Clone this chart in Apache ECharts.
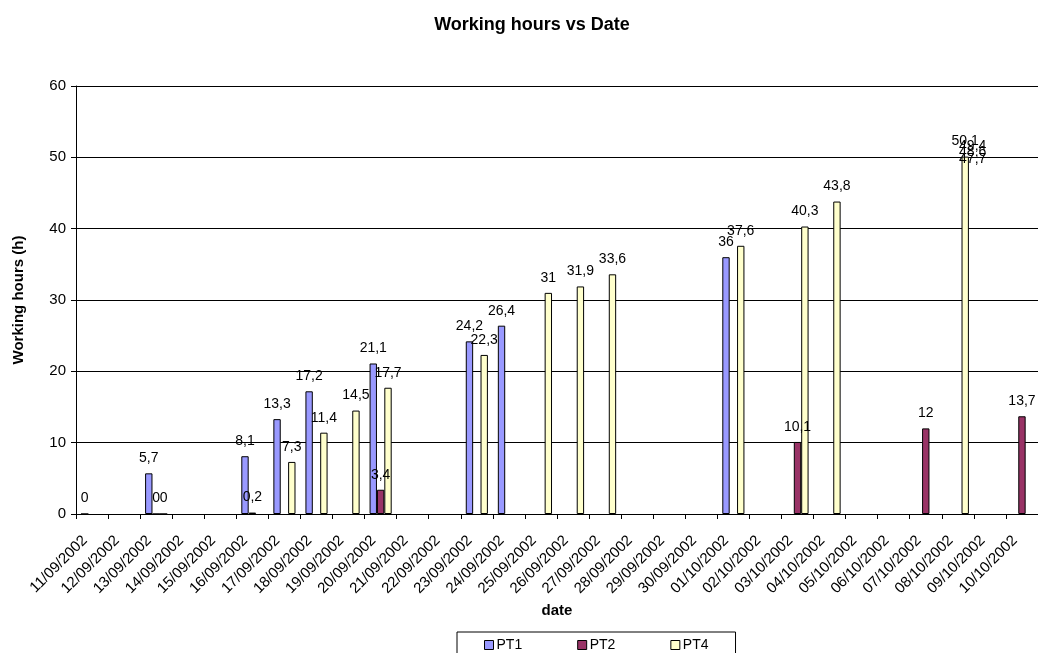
<!DOCTYPE html>
<html>
<head>
<meta charset="utf-8">
<script src="https://cdn.jsdelivr.net/npm/echarts@6/dist/echarts.min.js"></script>
<style>
html,body{margin:0;padding:0;background:#fff;}
#c{width:1038px;height:653px;}
</style>
</head>
<body>
<div id="c"></div>
<script>
var dates = ['11/09/2002','12/09/2002','13/09/2002','14/09/2002','15/09/2002','16/09/2002','17/09/2002','18/09/2002','19/09/2002','20/09/2002','21/09/2002','22/09/2002','23/09/2002','24/09/2002','25/09/2002','26/09/2002','27/09/2002','28/09/2002','29/09/2002','30/09/2002','01/10/2002','02/10/2002','03/10/2002','04/10/2002','05/10/2002','06/10/2002','07/10/2002','08/10/2002','09/10/2002','10/10/2002'];
var pt1 = [0,null,5.7,null,null,8.1,13.3,17.2,null,21.1,null,null,24.2,26.4,null,null,null,null,null,null,36,null,null,null,null,null,null,null,null,null];
var pt2 = [null,null,0,null,null,0.2,null,null,null,3.4,null,null,null,null,null,null,null,null,null,null,null,null,10.1,null,null,null,12,null,null,13.7];
var pt4 = [null,null,0,null,null,null,7.3,11.4,14.5,17.7,null,null,22.3,null,31,31.9,33.6,null,null,null,37.6,null,40.3,43.8,null,null,null,50.1,null,null];
// additional PT4 readings recorded on the same date (overlapping bars)
var pt4ExtraDate = '08/10/2002';
var pt4Extra = [49.4, 48.6, 47.7];
var yTicks = {min: 0, max: 60, interval: 10};

function fmt(v){ return String(v).replace('.', ','); }

var font = 'Liberation Sans, Arial, sans-serif';
var labelCfg = {show: true, position: 'top', distance: 8, fontSize: 14, color: '#000', fontFamily: font,
  formatter: function(p){ return p.value == null ? '' : fmt(p.value); }};

var chart = echarts.init(document.getElementById('c'), null, {renderer: 'canvas'});
chart.setOption({
  animation: false,
  backgroundColor: '#fff',
  title: {text: 'Working hours vs Date', left: 527, top: 11, textAlign: 'center',
    textStyle: {fontSize: 18, fontWeight: 'bold', color: '#000', fontFamily: font}},
  legend: {data: ['PT1','PT2','PT4'], left: 457, top: 632, padding: [6, 27, 12, 27], itemGap: 55,
    itemWidth: 9, itemHeight: 9, borderColor: '#000', borderWidth: 1, borderRadius: 0, icon: 'rect',
    itemStyle: {borderColor: '#000', borderWidth: 1},
    textStyle: {fontSize: 14, color: '#000', fontFamily: font, padding: [0,0,0,-2]}},
  grid: {left: 76, right: 0, top: 86, bottom: 139, containLabel: false},
  xAxis: {type: 'category', data: dates, boundaryGap: true,
    name: 'date', nameLocation: 'middle', nameGap: 84,
    nameTextStyle: {fontSize: 15, fontWeight: 'bold', color: '#000', fontFamily: font},
    axisLine: {lineStyle: {color: '#000', width: 1}},
    axisTick: {show: true, interval: 0, length: 5, lineStyle: {color: '#000'}},
    axisLabel: {interval: 0, rotate: 45, fontSize: 15, color: '#000', fontFamily: font, margin: 17,
      padding: [0, 10, 0, 0]}},
  yAxis: {type: 'value', min: yTicks.min, max: yTicks.max, interval: yTicks.interval,
    name: 'Working hours (h)', nameLocation: 'middle', nameGap: 50,
    nameTextStyle: {fontSize: 15, fontWeight: 'bold', color: '#000', fontFamily: font},
    axisLine: {show: true, lineStyle: {color: '#000', width: 1}},
    axisTick: {show: true, length: 5, lineStyle: {color: '#000'}},
    axisLabel: {fontSize: 15, color: '#000', fontFamily: font, margin: 10},
    splitLine: {show: true, lineStyle: {color: '#000', width: 1}}},
  series: [
    {name: 'PT1', type: 'bar', data: pt1, barGap: '0%', barCategoryGap: '31%',
      itemStyle: {color: '#9999FF', borderColor: '#000', borderWidth: 1}, label: labelCfg},
    {name: 'PT2', type: 'bar', data: pt2, barGap: '0%', barCategoryGap: '31%',
      itemStyle: {color: '#993366', borderColor: '#000', borderWidth: 1}, label: labelCfg},
    {name: 'PT4', type: 'bar', data: pt4, barGap: '0%', barCategoryGap: '31%',
      itemStyle: {color: '#FFFFCC', borderColor: '#000', borderWidth: 1}, label: labelCfg,
      markPoint: {symbol: 'circle', symbolSize: 0, silent: true,
        itemStyle: {color: 'rgba(0,0,0,0)'},
        label: {show: true, position: 'top', distance: 8, offset: [7.5, 0], fontSize: 14, color: '#000', fontFamily: font,
          formatter: function(p){ return fmt(p.value); }},
        data: pt4Extra.map(function(v){ return {coord: [pt4ExtraDate, v], value: v}; })}}
  ]
});
</script>
</body>
</html>
